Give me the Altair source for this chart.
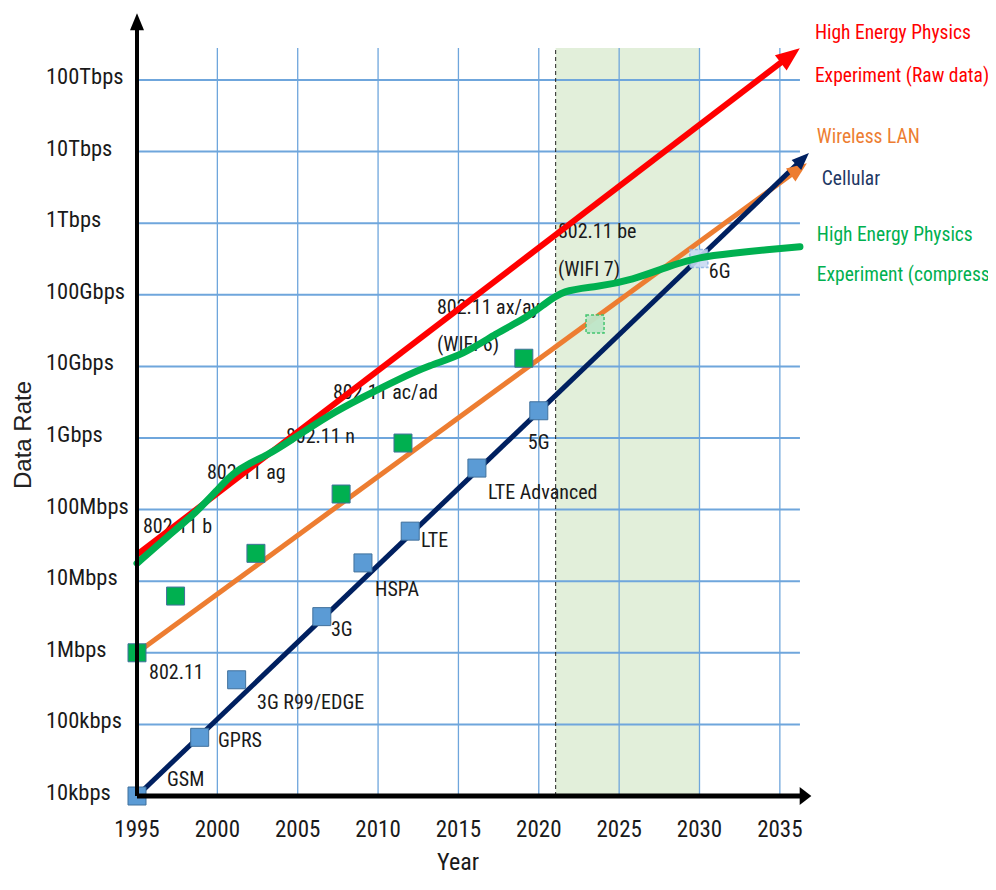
import altair as alt
import pandas as pd

FONT = "Roboto Condensed, DejaVu Sans Condensed, Liberation Sans, sans-serif"
TXT = "#1a1a1a"
GRID = "#6FA6DC"

# ---------------- data ----------------
x_ticks = [1995, 2000, 2005, 2010, 2015, 2020, 2025, 2030, 2035]
y_ticks = [1e4, 1e5, 1e6, 1e7, 1e8, 1e9, 1e10, 1e11, 1e12, 1e13, 1e14]
y_tick_labels = ["10kbps", "100kbps", "1Mbps", "10Mbps", "100Mbps", "1Gbps",
                 "10Gbps", "100Gbps", "1Tbps", "10Tbps", "100Tbps"]

cell_names = ["GSM", "GPRS", "3G R99/EDGE", "3G", "HSPA", "LTE", "LTE Advanced", "5G", "6G"]
cell_years = [1995, 1998.9, 2001.2, 2006.5, 2009.06, 2012.0, 2016.15, 2020.0, 2029.96]
cell_rates = [1.0e4, 6.6e4, 4.2e5, 3.2e6, 1.8e7, 5.0e7, 3.8e8, 2.4e9, 3.2e11]
cell_future = [False, False, False, False, False, False, False, False, True]

wlan_names = ["802.11", "802.11 b", "802.11 ag", "802.11 n", "802.11 ac/ad", "802.11 ax/ay", "802.11 be"]
wlan_years = [1995, 1997.4, 2002.4, 2007.7, 2011.55, 2019.07, 2023.5]
wlan_rates = [1.0e6, 6.2e6, 2.45e7, 1.65e8, 8.5e8, 1.3e10, 3.9e10]
wlan_future = [False, False, False, False, False, False, True]

cell_trend_years = [1995, 2036.42]
cell_trend_rates = [1.0e4, 7.9e12]
wlan_trend_years = [1995, 2036.18]
wlan_trend_rates = [1.0e6, 5.7e12]
hep_raw_years = [1995, 2035.65]
hep_raw_rates = [2.34e7, 2.2e14]

hep_comp_years = [1995.0, 1996.87, 1998.73, 1999.98, 2000.97, 2002.03, 2003.09, 2004.33,
                  2007.0, 2009.06, 2011.17, 2013.23, 2015.28, 2017.4, 2019.01, 2020.26,
                  2021.5, 2023.62, 2025.86, 2027.97, 2030.02, 2032.08, 2034.19, 2036.25]
hep_comp_log = [7.25, 7.62, 7.97, 8.27, 8.51, 8.65, 8.76, 8.93,
                9.33, 9.57, 9.81, 10.02, 10.16, 10.47, 10.65, 10.85,
                11.07, 11.11, 11.21, 11.39, 11.53, 11.58, 11.63, 11.67]

ann_text = ["GSM", "GPRS", "3G R99/EDGE", "3G", "HSPA", "LTE", "LTE Advanced", "5G", "6G",
            "802.11", "802.11 b", "802.11 ag", "802.11 n", "802.11 ac/ad",
            "802.11 ax/ay", "(WIFI 6)", "802.11 be", "(WIFI 7)"]
ann_years = [1996.87, 2000.04, 2002.47, 2007.07, 2009.81, 2012.67, 2016.84, 2019.32, 2030.58,
             1995.75, 1995.37, 1999.35, 2004.27, 2007.19,
             2013.66, 2013.66, 2021.19, 2021.19]
ann_rates = [1.67e4, 5.87e4, 2.0e5, 2.08e6, 7.5e6, 3.6e7, 1.7e8, 8.5e8, 2.1e11,
             5.2e5, 5.7e7, 3.2e8, 1.02e9, 4.3e9,
             6.6e10, 2.0e10, 7.6e11, 2.2e11]

legend_text = ["High Energy Physics", "Experiment (Raw data)", "Wireless LAN", "Cellular",
               "High Energy Physics", "Experiment (compressed)"]
legend_years = [2037.18, 2037.18, 2037.30, 2037.61, 2037.30, 2037.30]
legend_rates = [4.5e14, 1.15e14, 1.6e13, 4.2e12, 6.8e11, 1.89e11]
legend_colors = ["#FF0000", "#FF0000", "#ED7D31", "#1F3864", "#00B050", "#00B050"]

forecast_start, forecast_end = 2021.05, 2030
grid_top = 2.8e14
grid_right = 2036.25
x_axis_end = 2036.4
y_axis_end = 6.2e14

# ---------------- scales ----------------
xs = alt.Scale(domain=[1995, 2037], nice=False, zero=False)
ys = alt.Scale(type="log", domain=[1e4, 8.9e14], nice=False)


def X(f="year"):
    return alt.X(f"{f}:Q", scale=xs, axis=None)


def Y(f="rate"):
    return alt.Y(f"{f}:Q", scale=ys, axis=None)


ARROW_R = "M1,0L-1,-0.8L-1,0.8Z"
ARROW_UP = "M0,-1L0.7,0.7L-0.7,0.7Z"
ARROW_X = "M1,0L-0.3,-1L-0.3,1Z"

shade = alt.Chart(pd.DataFrame({"x0": [forecast_start], "x1": [forecast_end],
                                "y0": [1e4], "y1": [grid_top]})).mark_rect(
    color="#E2EFDA").encode(x=X("x0"), x2="x1", y=Y("y0"), y2="y1")

hgrid = alt.Chart(pd.DataFrame({"rate": y_ticks[1:], "x0": 1995, "x1": grid_right})).mark_rule(
    color=GRID, strokeWidth=2).encode(y=Y("rate"), x=X("x0"), x2="x1")

vgrid = alt.Chart(pd.DataFrame({"year": x_ticks[1:], "y0": 1e4, "y1": grid_top})).mark_rule(
    color=GRID, strokeWidth=1.3).encode(x=X("year"), y=Y("y0"), y2="y1")

dashed = alt.Chart(pd.DataFrame({"year": [forecast_start], "y0": [1e4], "y1": [grid_top]})).mark_rule(
    color="#222", strokeDash=[4, 3], strokeWidth=1).encode(x=X("year"), y=Y("y0"), y2="y1")

ann = alt.Chart(pd.DataFrame({"year": ann_years, "rate": ann_rates, "t": ann_text})).mark_text(
    align="left", baseline="middle", font=FONT, fontSize=20, color=TXT).encode(
    x=X("year"), y=Y("rate"), text="t:N")

wlan_line = alt.Chart(pd.DataFrame({"year": wlan_trend_years, "rate": wlan_trend_rates})).mark_line(
    color="#ED7D31", strokeWidth=5).encode(x=X("year"), y=Y("rate"))
cell_line = alt.Chart(pd.DataFrame({"year": cell_trend_years, "rate": cell_trend_rates})).mark_line(
    color="#002060", strokeWidth=5).encode(x=X("year"), y=Y("rate"))

cell_df = pd.DataFrame({"year": cell_years, "rate": cell_rates, "future": cell_future})
wlan_df = pd.DataFrame({"year": wlan_years, "rate": wlan_rates, "future": wlan_future})

cell_pts = alt.Chart(cell_df[~cell_df["future"]]).mark_point(
    shape="square", filled=True, size=324, fill="#5B9BD5", stroke="#41719C",
    strokeWidth=1, opacity=1).encode(x=X("year"), y=Y("rate"))
cell_fut = alt.Chart(cell_df[cell_df["future"]]).mark_point(
    shape="square", filled=True, size=324, fill="#C9DAF3", stroke="#8FB4E3",
    strokeWidth=1.5, strokeDash=[3, 2], opacity=0.9).encode(x=X("year"), y=Y("rate"))
wlan_pts = alt.Chart(wlan_df[~wlan_df["future"]]).mark_point(
    shape="square", filled=True, size=324, fill="#00B050", stroke="#41719C",
    strokeWidth=1, opacity=1).encode(x=X("year"), y=Y("rate"))
wlan_fut = alt.Chart(wlan_df[wlan_df["future"]]).mark_point(
    shape="square", filled=True, size=324, fill="#BFE6C9", stroke="#3CC46A",
    strokeWidth=1.5, strokeDash=[3, 2], opacity=0.95).encode(x=X("year"), y=Y("rate"))

red_line = alt.Chart(pd.DataFrame({"year": hep_raw_years, "rate": hep_raw_rates})).mark_line(
    color="#FF0000", strokeWidth=6).encode(x=X("year"), y=Y("rate"))

green_df = pd.DataFrame({"year": hep_comp_years, "rate": [10 ** v for v in hep_comp_log]})
green_line = alt.Chart(green_df).mark_line(
    color="#00B050", strokeWidth=7, interpolate="basis", strokeCap="round").encode(
    x=X("year"), y=Y("rate"))

red_arrow = alt.Chart(pd.DataFrame({"year": hep_raw_years[-1:], "rate": hep_raw_rates[-1:]})).mark_point(
    shape=ARROW_R, filled=True, size=576, color="#FF0000", opacity=1, angle=322.5).encode(
    x=X("year"), y=Y("rate"))
wlan_arrow = alt.Chart(pd.DataFrame({"year": wlan_trend_years[-1:], "rate": wlan_trend_rates[-1:]})).mark_point(
    shape=ARROW_R, filled=True, size=400, color="#ED7D31", opacity=1, angle=323.9).encode(
    x=X("year"), y=Y("rate"))
cell_arrow = alt.Chart(pd.DataFrame({"year": cell_trend_years[-1:], "rate": cell_trend_rates[-1:]})).mark_point(
    shape=ARROW_R, filled=True, size=300, color="#002060", opacity=1, angle=316.3).encode(
    x=X("year"), y=Y("rate"))

y_axis = alt.Chart(pd.DataFrame({"year": [1995], "y0": [1e4], "y1": [y_axis_end]})).mark_rule(
    color="black", strokeWidth=4).encode(x=X("year"), y=Y("y0"), y2="y1")
y_arrow = alt.Chart(pd.DataFrame({"year": [1995], "rate": [y_axis_end]})).mark_point(
    shape=ARROW_UP, filled=True, size=400, color="black", opacity=1).encode(x=X("year"), y=Y("rate"))
x_axis = alt.Chart(pd.DataFrame({"x0": [1995], "x1": [x_axis_end], "rate": [1e4]})).mark_rule(
    color="black", strokeWidth=5).encode(x=X("x0"), x2="x1", y=Y("rate"))
x_arrow = alt.Chart(pd.DataFrame({"year": [x_axis_end], "rate": [1e4]})).mark_point(
    shape=ARROW_X, filled=True, size=324, color="black", opacity=1).encode(x=X("year"), y=Y("rate"))

x_labels = alt.Chart(pd.DataFrame({"year": x_ticks, "rate": 1e4, "t": [str(v) for v in x_ticks]})).mark_text(
    align="center", baseline="middle", dy=34, font=FONT, fontSize=23, color=TXT).encode(
    x=X("year"), y=Y("rate"), text="t:N")
y_labels = alt.Chart(pd.DataFrame({"year": 1995, "rate": y_ticks, "t": y_tick_labels})).mark_text(
    align="left", baseline="middle", dx=-91, dy=-3, font=FONT, fontSize=22.5, color=TXT).encode(
    x=X("year"), y=Y("rate"), text="t:N")

x_title = alt.Chart(pd.DataFrame({"t": ["Year"]})).mark_text(
    align="center", baseline="middle", font=FONT, fontSize=24, color=TXT).encode(
    x=alt.value(321), y=alt.value(851), text="t:N")
y_title = alt.Chart(pd.DataFrame({"t": ["Data Rate"]})).mark_text(
    align="center", baseline="middle", angle=270, font="Liberation Sans, Arial, sans-serif",
    fontSize=24, color="#222").encode(x=alt.value(-113), y=alt.value(423), text="t:N")

legend = alt.Chart(pd.DataFrame({"year": legend_years, "rate": legend_rates, "t": legend_text,
                                 "c": legend_colors})).mark_text(
    align="left", baseline="middle", font=FONT, fontSize=19.5).encode(
    x=X("year"), y=Y("rate"), text="t:N", color=alt.Color("c:N", scale=None))

chart = alt.layer(
    shade, hgrid, vgrid, dashed, ann, wlan_line, cell_line, cell_pts, cell_fut, wlan_pts, wlan_fut,
    red_line, green_line, red_arrow, wlan_arrow, cell_arrow,
    y_axis, y_arrow, x_axis, x_arrow, x_labels, y_labels, x_title, y_title, legend
).properties(
    width=675, height=784,
    autosize=alt.AutoSizeParams(type="none"),
    padding={"left": 129, "top": 4, "right": 176, "bottom": 80},
    background="white",
).configure_view(stroke=None)

chart.save("out.html", embed_options={"renderer": "svg", "actions": False})
